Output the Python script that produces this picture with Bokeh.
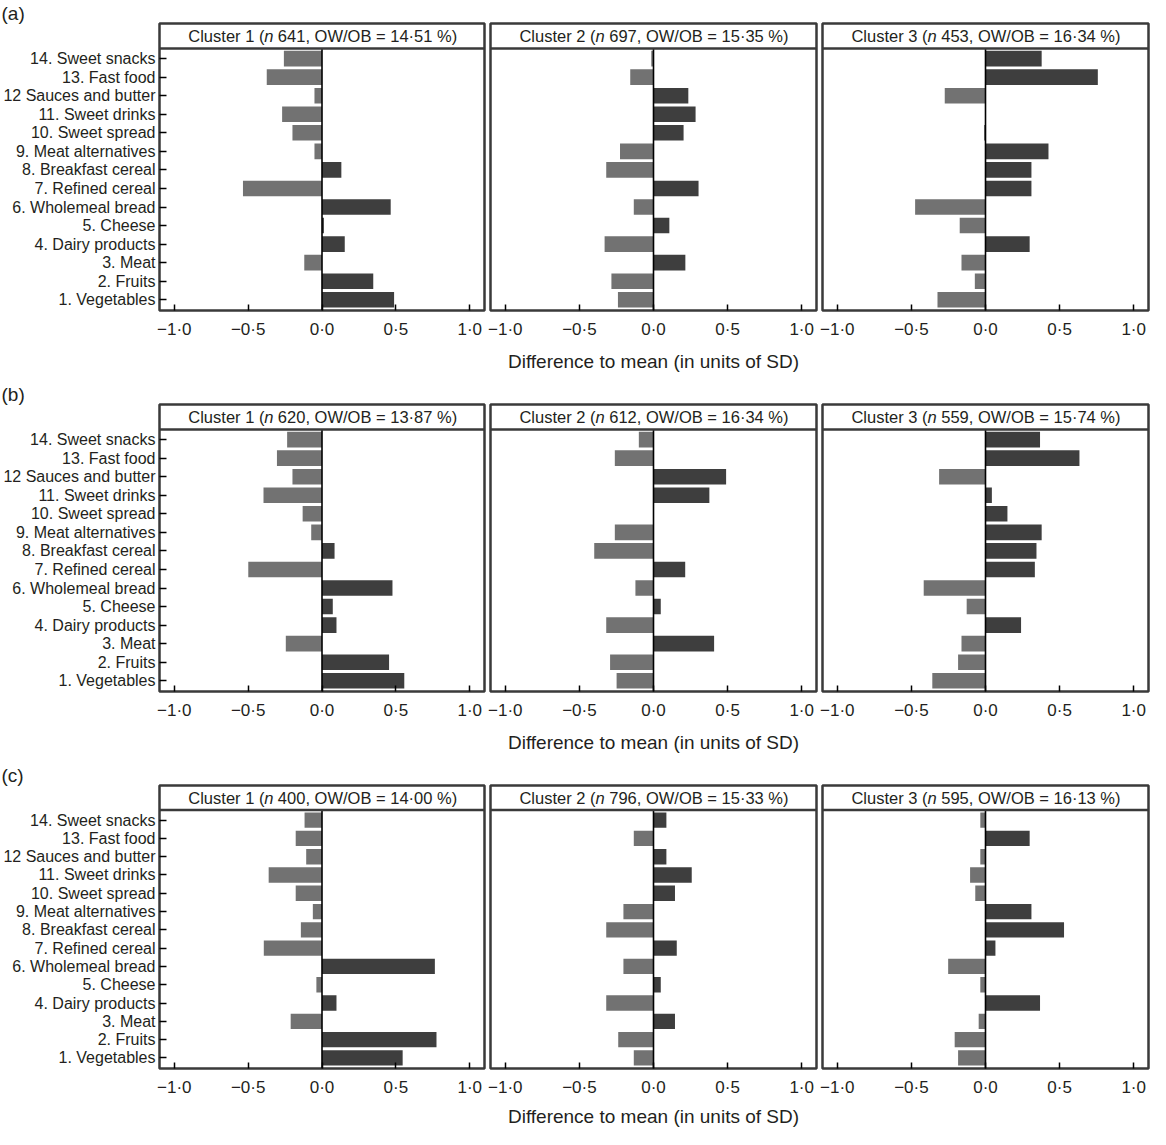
from bokeh.plotting import figure
from bokeh.models import (ColumnDataSource, FixedTicker, Span, Label, Range1d,
                          CustomJSTickFormatter, Title)
from bokeh.layouts import column, row
from bokeh.embed import file_html
from bokeh.resources import INLINE

# ---------------- data ----------------
foods = ["1. Vegetables", "2. Fruits", "3. Meat", "4. Dairy products", "5. Cheese",
         "6. Wholemeal bread", "7. Refined cereal", "8. Breakfast cereal",
         "9. Meat alternatives", "10. Sweet spread", "11. Sweet drinks",
         "12 Sauces and butter", "13. Fast food", "14. Sweet snacks"]

x_ticks = [-1.0, -0.5, 0.0, 0.5, 1.0]
panel_tags = ["(a)", "(b)", "(c)"]
cluster_names = ["Cluster 1", "Cluster 2", "Cluster 3"]
x_title = "Difference to mean (in units of SD)"

# values listed from food 1 (bottom) to food 14 (top)
a1 = [0.488, 0.347, -0.120, 0.154, 0.013, 0.465, -0.535, 0.131, -0.051, -0.200, -0.270, -0.051, -0.374, -0.258]
a2 = [-0.240, -0.284, 0.215, -0.330, 0.107, -0.133, 0.304, -0.319, -0.226, 0.203, 0.284, 0.235, -0.157, -0.015]
a3 = [-0.324, -0.072, -0.162, 0.298, -0.174, -0.475, 0.310, 0.310, 0.425, -0.010, 0.000, -0.275, 0.758, 0.379]
b1 = [0.557, 0.454, -0.245, 0.098, 0.073, 0.477, -0.499, 0.085, -0.073, -0.131, -0.396, -0.200, -0.305, -0.236]
b2 = [-0.249, -0.293, 0.409, -0.319, 0.049, -0.122, 0.214, -0.400, -0.261, 0.000, 0.377, 0.490, -0.261, -0.099]
b3 = [-0.359, -0.185, -0.162, 0.240, -0.127, -0.417, 0.333, 0.344, 0.379, 0.148, 0.043, -0.313, 0.634, 0.368]
c1 = [0.546, 0.775, -0.212, 0.098, -0.038, 0.764, -0.394, -0.143, -0.062, -0.178, -0.361, -0.107, -0.178, -0.118]
c2 = [-0.133, -0.238, 0.145, -0.319, 0.049, -0.203, 0.157, -0.319, -0.203, 0.145, 0.258, 0.087, -0.133, 0.087]
c3 = [-0.185, -0.208, -0.046, 0.368, -0.035, -0.252, 0.067, 0.530, 0.310, -0.069, -0.104, -0.035, 0.298, -0.035]

n_a = [641, 697, 453]
n_b = [620, 612, 559]
n_c = [400, 796, 595]
owob_a = ["14·51", "15·35", "16·34"]
owob_b = ["13·87", "16·34", "15·74"]
owob_c = ["14·00", "15·33", "16·13"]

values = [[a1, a2, a3], [b1, b2, b3], [c1, c2, c3]]
ns = [n_a, n_b, n_c]
owobs = [owob_a, owob_b, owob_c]

# ---------------- style / layout ----------------
FONT = "Liberation Sans"
TXT = "#231f20"
NEG = "#727272"
POS = "#3e3e3e"
EDGE = "#3a3a3a"

XR = 1.1
FRAME_W = 326
HDR = 25
PLOT_H = 263
FRAME_H = HDR + PLOT_H
TOP_B = 22
Y_LO = 0.42
Y_SEP = 14.55
PPU_Y = PLOT_H / (Y_SEP - Y_LO)
Y_HI = Y_SEP + HDR / PPU_Y
PPU_X = FRAME_W / (2 * XR)
BOTTOM_B = [71, 71, 57]
TITLE_STANDOFF = [9, 9, 6]

# Arial / Liberation Sans advance widths (1/1000 em)
AW = {" ": 278, "(": 333, ")": 333, ",": 278, ".": 278, "/": 278, "%": 889, "=": 584,
      "·": 278, "C": 722, "O": 778, "W": 944, "B": 667, "D": 722, "S": 667,
      "l": 222, "u": 556, "s": 500, "t": 278, "e": 556, "r": 333, "n": 556, "i": 222,
      "f": 278, "c": 500, "o": 556, "m": 833, "a": 556}


def tw(s, size):
    return sum(AW.get(ch, 556) for ch in s) / 1000.0 * size


def add_pieces(p, pieces, y, center_px, baseline):
    # pieces: (text, size, style, gap_before_px)
    total = sum(tw(t, sz) + g for t, sz, st, g in pieces)
    x_px = center_px - total / 2.0
    for t, sz, st, g in pieces:
        x_px += g
        p.add_layout(Label(x=x_px / PPU_X, y=y, text=t, text_font=FONT,
                           text_font_size=f"{sz}px", text_font_style=st,
                           text_color=TXT, text_align="left", text_baseline=baseline))
        x_px += tw(t, sz)


def make_panel(r, c):
    vals = values[r][c]
    left = 158 if c == 0 else 3
    right = 2 if c == 2 else 3
    bottom = BOTTOM_B[r]
    title = None
    if c == 0:
        title = Title(text=panel_tags[r], align="left", offset=-left, standoff=0,
                      text_font=FONT, text_font_size="19px", text_font_style="normal",
                      text_color=TXT)
    p = figure(width=left + FRAME_W + right, height=TOP_B + FRAME_H + bottom,
               x_range=Range1d(-XR, XR), y_range=Range1d(Y_LO, Y_HI),
               output_backend="svg", toolbar_location=None, title=title,
               y_axis_location="left" if c == 0 else None,
               min_border_left=left, min_border_right=right,
               min_border_top=TOP_B, min_border_bottom=bottom)
    p.grid.visible = False
    p.background_fill_color = "white"
    p.border_fill_color = "white"
    p.outline_line_color = EDGE
    p.outline_line_width = 2.5

    src = ColumnDataSource(dict(y=list(range(1, len(foods) + 1)), v=vals,
                                col=[NEG if v < 0 else POS for v in vals]))
    p.hbar(y="y", left=0, right="v", height=0.84, fill_color="col",
           line_color=None, source=src)
    p.segment(x0=[0], y0=[Y_LO], x1=[0], y1=[Y_SEP], line_color="black", line_width=1.6)
    p.add_layout(Span(location=Y_SEP, dimension="width", line_color=EDGE, line_width=2.5))

    xa = p.xaxis[0]
    xa.ticker = FixedTicker(ticks=x_ticks)
    xa.formatter = CustomJSTickFormatter(
        code="return (tick < 0 ? '\u2212' : '') + Math.abs(tick).toFixed(1).replace('.', '\u00b7');")
    xa.axis_line_color = None
    xa.major_tick_in = 6
    xa.major_tick_out = 0
    xa.major_tick_line_color = "black"
    xa.major_tick_line_width = 1.5
    xa.minor_tick_line_color = None
    xa.major_label_standoff = 9
    xa.major_label_text_font = FONT
    xa.major_label_text_font_size = "17px"
    xa.major_label_text_color = TXT
    if c == 1:
        xa.axis_label = x_title
        xa.axis_label_standoff = TITLE_STANDOFF[r]
        xa.axis_label_text_font = FONT
        xa.axis_label_text_font_size = "19px"
        xa.axis_label_text_font_style = "normal"
        xa.axis_label_text_color = TXT

    if c == 0:
        ya = p.yaxis[0]
        ya.ticker = FixedTicker(ticks=list(range(1, len(foods) + 1)))
        ya.formatter = CustomJSTickFormatter(args=dict(labels=foods),
                                             code="return labels[Math.round(tick) - 1];")
        ya.axis_line_color = None
        ya.major_tick_in = 7
        ya.major_tick_out = 0
        ya.major_tick_line_color = "black"
        ya.major_tick_line_width = 1.5
        ya.minor_tick_line_color = None
        ya.major_label_standoff = 4
        ya.major_label_text_font = FONT
        ya.major_label_text_font_size = "16px"
        ya.major_label_text_color = TXT

    # header text with italic n
    pieces = [(f"{cluster_names[c]} (", 16.5, "normal", 0.0),
              ("n", 16.5, "italic", 0.0),
              (f"{ns[r][c]}, OW/OB = {owobs[r][c]} %)", 16.5, "normal", tw(" ", 16.5))]
    add_pieces(p, pieces, Y_SEP + (HDR / 2.0) / PPU_Y, 0.0, "middle")
    return p


rows = [row(*[make_panel(r, c) for c in range(3)]) for r in range(3)]
layout = column(*rows)

open("out.html", "w").write(file_html(layout, INLINE))
